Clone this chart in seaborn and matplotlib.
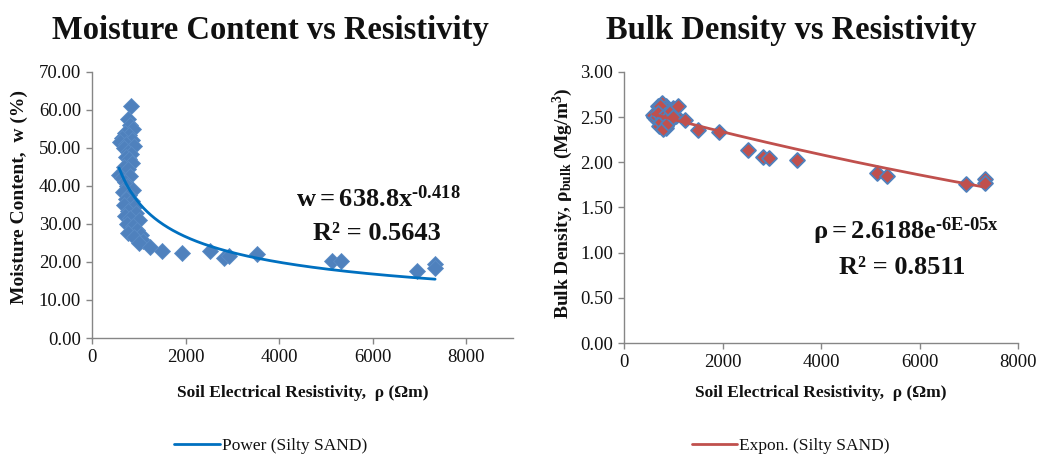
import numpy as np
import pandas as pd
import matplotlib
matplotlib.use("Agg")
import matplotlib.pyplot as plt
from matplotlib.ticker import FormatStrFormatter, FixedLocator
import seaborn as sns

# ---------------- data ----------------
resistivity = [834, 760, 820, 880, 700, 790, 650, 600, 850, 730,
               900, 680, 770, 840, 720, 800, 860, 690, 760, 580,
               640, 820, 700, 750, 880, 660, 800, 720, 850, 680,
               900, 760, 950, 700, 820, 1000, 740, 880, 960, 780,
               1050, 900, 1100, 1000, 1230, 1500, 1930, 2520, 2820, 2935,
               3520, 5135, 5330, 6940, 7335, 7335]
moisture = [61.0, 57.5, 56.0, 55.0, 54.0, 53.5, 52.5, 51.5, 52.0, 51.0,
            50.5, 50.0, 49.0, 48.5, 47.5, 47.0, 46.0, 45.0, 44.5, 43.0,
            42.0, 42.5, 41.0, 40.0, 39.0, 38.5, 37.5, 36.5, 36.0, 35.0,
            34.5, 33.5, 33.0, 32.0, 31.5, 31.0, 30.0, 29.5, 28.5, 27.5,
            27.0, 26.5, 25.5, 25.0, 24.0, 23.0, 22.4, 22.8, 21.0, 21.5,
            22.2, 20.3, 20.3, 17.6, 19.4, 18.3]
density = [2.55, 2.50, 2.52, 2.58, 2.48, 2.45, 2.55, 2.50, 2.62, 2.60,
           2.45, 2.52, 2.66, 2.40, 2.58, 2.48, 2.55, 2.62, 2.45, 2.52,
           2.48, 2.60, 2.55, 2.42, 2.58, 2.50, 2.45, 2.62, 2.38, 2.55,
           2.50, 2.47, 2.56, 2.40, 2.52, 2.60, 2.45, 2.49, 2.57, 2.37,
           2.51, 2.44, 2.62, 2.50, 2.47, 2.36, 2.34, 2.14, 2.06, 2.05,
           2.02, 1.88, 1.85, 1.76, 1.82, 1.77]

# trendline coefficients (as shown on chart)
power_a, power_b = 638.8, -0.418
expon_a, expon_b = 2.6188, -5.7e-05

left_xticks = [0, 2000, 4000, 6000, 8000]
left_yticks = [0, 10, 20, 30, 40, 50, 60, 70]
right_xticks = [0, 2000, 4000, 6000, 8000]
right_yticks = [0.0, 0.5, 1.0, 1.5, 2.0, 2.5, 3.0]

df = pd.DataFrame({"rho": resistivity, "w": moisture, "dens": density})
xfit = np.linspace(min(resistivity), max(resistivity), 400)
fit_df = pd.DataFrame({
    "rho": xfit,
    "w_fit": power_a * xfit ** power_b,
    "d_fit": expon_a * np.exp(expon_b * xfit),
})

# ---------------- style ----------------
sns.set_theme(style="white")
plt.rcParams["font.family"] = ["Liberation Serif", "DejaVu Serif"]
plt.rcParams["mathtext.fontset"] = "custom"
plt.rcParams["mathtext.rm"] = "Liberation Serif:bold"
plt.rcParams["mathtext.it"] = "Liberation Serif:bold"
plt.rcParams["mathtext.bf"] = "Liberation Serif:bold"

GRAY = "#868686"
BLUE = "#4F81BD"
LINE_BLUE = "#0070C0"
RED = "#C0504D"
TXT = "#111111"

fig = plt.figure(figsize=(10.42, 4.58), dpi=100)
ax1 = fig.add_axes([0.0883, 0.262, 0.404, 0.581])
ax2 = fig.add_axes([0.599, 0.251, 0.378, 0.592])

# left
sns.scatterplot(data=df, x="rho", y="w", ax=ax1, marker="D", s=66,
                color=BLUE, edgecolor="#5B8CC6", linewidth=0.6, zorder=2)
sns.lineplot(data=fit_df, x="rho", y="w_fit", ax=ax1, color=LINE_BLUE,
             linewidth=2.0, estimator=None, label="Power (Silty SAND)", zorder=3)

# right
sns.scatterplot(data=df, x="rho", y="dens", ax=ax2, marker="D", s=58,
                color=RED, edgecolor=BLUE, linewidth=1.3, zorder=2)
sns.lineplot(data=fit_df, x="rho", y="d_fit", ax=ax2, color=RED,
             linewidth=2.0, estimator=None, label="Expon. (Silty SAND)", zorder=3)

for ax, xt, yt, xl, yl, fmt in [
    (ax1, left_xticks, left_yticks, (0, 9000), (0, 70), "%.2f"),
    (ax2, right_xticks, right_yticks, (0, 8000), (0, 3), "%.2f"),
]:
    ax.set_xlim(*xl)
    ax.set_ylim(*yl)
    ax.xaxis.set_major_locator(FixedLocator(xt))
    ax.yaxis.set_major_locator(FixedLocator(yt))
    ax.yaxis.set_major_formatter(FormatStrFormatter(fmt))
    for s in ["top", "right"]:
        ax.spines[s].set_visible(False)
    for s in ["left", "bottom"]:
        ax.spines[s].set_color(GRAY)
        ax.spines[s].set_linewidth(1.0)
    ax.tick_params(axis="both", direction="out", length=4, width=1.0,
                   color=GRAY, labelsize=13.5, labelcolor=TXT, pad=4,
                   left=True, bottom=True)
    ax.set_facecolor("white")
    if ax.get_legend() is not None:
        ax.get_legend().remove()

ax1.set_xlabel("Soil Electrical Resistivity,  ρ (Ωm)", fontsize=12.5,
               fontweight="bold", color=TXT, va="center")
ax1.xaxis.set_label_coords(0.5, -0.207)
ax1.set_ylabel("Moisture Content,  w (%)", fontsize=14, fontweight="bold",
               color=TXT, va="center")
ax1.yaxis.set_label_coords(-0.173, 0.53)

ax2.set_xlabel("Soil Electrical Resistivity,  ρ (Ωm)", fontsize=12.5,
               fontweight="bold", color=TXT, va="center")
ax2.xaxis.set_label_coords(0.5, -0.1845)
ax2.set_ylabel(r"Bulk Density, $\mathrm{ρ_{bulk}}$ (Mg/m$^{3}$)", fontsize=14,
               fontweight="bold", color=TXT, va="center")
ax2.yaxis.set_label_coords(-0.155, 0.517)

# titles
fig.text(0.260, 0.934, "Moisture Content vs Resistivity", fontsize=23.5,
         fontweight="bold", ha="center", va="center", color=TXT)
fig.text(0.759, 0.934, "Bulk Density vs Resistivity", fontsize=23.5,
         fontweight="bold", ha="center", va="center", color=TXT)

# equations
fig.text(0.363, 1 - 199 / 458, r"$\mathrm{w = 638.8x^{\text{-}0.418}}$", fontsize=19,
         ha="center", va="center", color=TXT)
fig.text(0.362, 1 - 234 / 458, "R² = 0.5643", fontsize=19, fontweight="bold",
         ha="center", va="center", color=TXT)
fig.text(0.869, 1 - 231 / 458, r"$\mathrm{ρ = 2.6188e^{\text{-}6E\text{-}05x}}$", fontsize=19,
         ha="center", va="center", color=TXT)
fig.text(0.866, 1 - 267 / 458, "R² = 0.8511", fontsize=19, fontweight="bold",
         ha="center", va="center", color=TXT)

# legends
h1 = ax1.get_lines()[-1]
ax1.legend(handles=[h1], labels=["Power (Silty SAND)"], loc="center",
           bbox_to_anchor=(0.260, 0.026), bbox_transform=fig.transFigure,
           frameon=False, fontsize=12.5, handlelength=2.6, handletextpad=0.15,
           labelcolor=TXT)
h2 = ax2.get_lines()[-1]
ax2.legend(handles=[h2], labels=["Expon. (Silty SAND)"], loc="center",
           bbox_to_anchor=(0.759, 0.026), bbox_transform=fig.transFigure,
           frameon=False, fontsize=12.5, handlelength=2.6, handletextpad=0.15,
           labelcolor=TXT)

fig.savefig("out.png", dpi=100, facecolor="white")
